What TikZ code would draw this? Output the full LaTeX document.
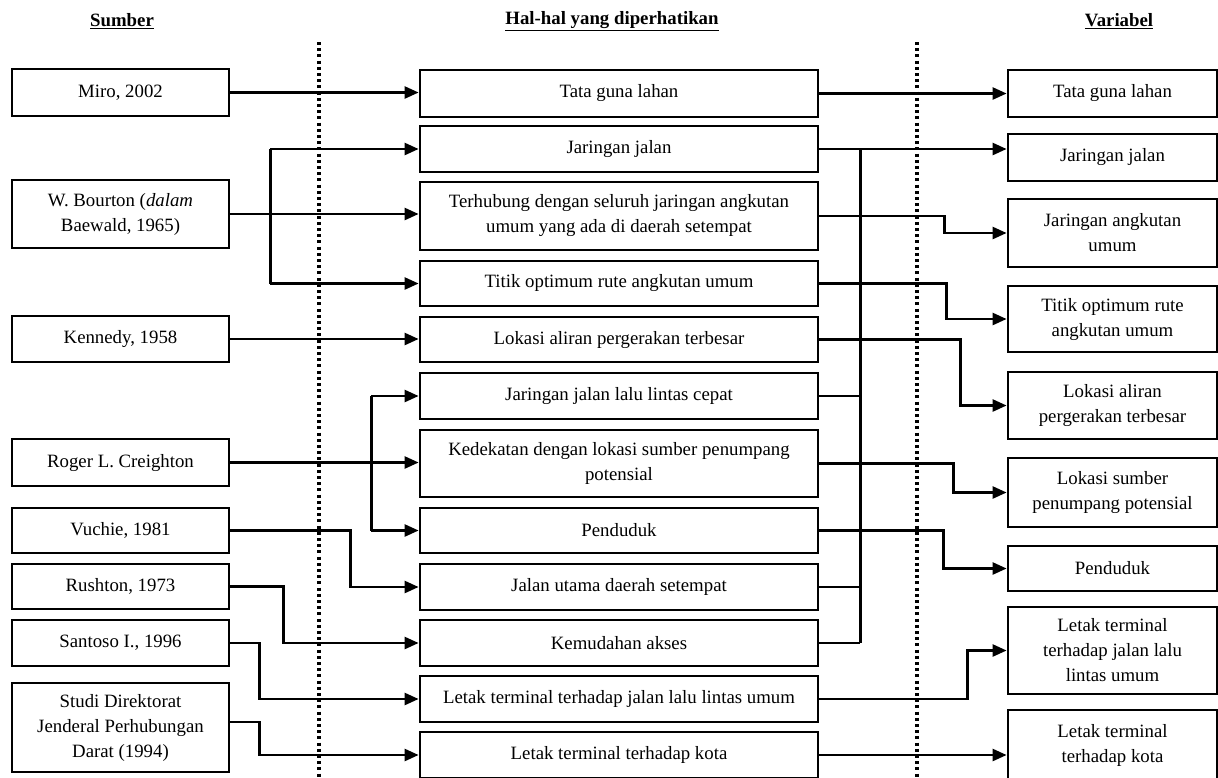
\documentclass[tikz,border=0pt]{standalone}
\usepackage{fontspec}
\setmainfont{Liberation Serif}
\usetikzlibrary{arrows.meta}
\begin{document}
\begin{tikzpicture}[x=1pt,y=-1pt,
  font=\fontsize{18.8}{25}\selectfont,
  box/.style={draw, line width=2.8pt, inner sep=0pt, align=center, anchor=center},
  lbox/.style={box, minimum width=217pt},
  mbox/.style={box, minimum width=398pt},
  rbox/.style={box, minimum width=209pt},
  conn/.style={line width=2.5pt},
  arr/.style={conn, -{Triangle[length=14pt,width=12pt]}},
  dotline/.style={line width=3.2pt, dash pattern=on 3pt off 3.2pt},
  hdr/.style={font=\fontsize{18.8}{25}\selectfont\bfseries, anchor=center}
]
\clip (0,0) rectangle (1218,777);
\fill[white] (0,0) rectangle (1218,777);

% headers
\node[hdr] (h1) at (122,21) {\underline{Sumber}};
\node[hdr] (h2) at (612,21) {\underline{Hal-hal yang diperhatikan}};
\node[hdr] (h3) at (1119,21) {\underline{Variabel}};

% dotted separators
\coordinate (d1t) at (319,42); \coordinate (d1b) at (319,780);
\coordinate (d2t) at (917,42); \coordinate (d2b) at (917,780);
\draw[dotline] (d1t) -- (d1b);
\draw[dotline] (d2t) -- (d2b);

% left column
\node[lbox, minimum height=47pt] (miro) at (120.5,92.5) {Miro, 2002};
\node[lbox, minimum height=68pt] (bourton) at (120.5,214) {W. Bourton (\textit{dalam}\\Baewald, 1965)};
\node[lbox, minimum height=46pt] (kennedy) at (120.5,339) {Kennedy, 1958};
\node[lbox, minimum height=47pt] (roger) at (120.5,462.5) {Roger L. Creighton};
\node[lbox, minimum height=45pt] (vuchie) at (120.5,530.5) {Vuchie, 1981};
\node[lbox, minimum height=45pt] (rushton) at (120.5,586.5) {Rushton, 1973};
\node[lbox, minimum height=46pt] (santoso) at (120.5,643) {Santoso I., 1996};
\node[lbox, minimum height=89pt] (studi) at (120.5,727.5) {Studi Direktorat\\Jenderal Perhubungan\\Darat (1994)};

% middle column
\node[mbox, minimum height=47pt] (m1) at (619,93.5) {Tata guna lahan};
\node[mbox, minimum height=46pt] (m2) at (619,149) {Jaringan jalan};
\node[mbox, minimum height=68pt] (m3) at (619,216) {Terhubung dengan seluruh jaringan angkutan\\umum yang ada di daerah setempat};
\node[mbox, minimum height=45pt] (m4) at (619,283.5) {Titik optimum rute angkutan umum};
\node[mbox, minimum height=45pt] (m5) at (619,339.5) {Lokasi aliran pergerakan terbesar};
\node[mbox, minimum height=46pt] (m6) at (619,396) {Jaringan jalan lalu lintas cepat};
\node[mbox, minimum height=67pt] (m7) at (619,463.5) {Kedekatan dengan lokasi sumber penumpang\\potensial};
\node[mbox, minimum height=45pt] (m8) at (619,530.5) {Penduduk};
\node[mbox, minimum height=46pt] (m9) at (619,587) {Jalan utama daerah setempat};
\node[mbox, minimum height=46pt] (m10) at (619,643) {Kemudahan akses};
\node[mbox, minimum height=46pt] (m11) at (619,699) {Letak terminal terhadap jalan lalu lintas umum};
\node[mbox, minimum height=46pt] (m12) at (619,755) {Letak terminal terhadap kota};

% right column
\node[rbox, minimum height=47pt] (r1) at (1112.5,93.5) {Tata guna lahan};
\node[rbox, minimum height=47pt] (r2) at (1112.5,157.5) {Jaringan jalan};
\node[rbox, minimum height=68pt] (r3) at (1112.5,233) {Jaringan angkutan\\umum};
\node[rbox, minimum height=66pt] (r4) at (1112.5,319) {Titik optimum rute\\angkutan umum};
\node[rbox, minimum height=67pt] (r5) at (1112.5,405.5) {Lokasi aliran\\pergerakan terbesar};
\node[rbox, minimum height=69pt] (r6) at (1112.5,492.5) {Lokasi sumber\\penumpang potensial};
\node[rbox, minimum height=45pt] (r7) at (1112.5,568.5) {Penduduk};
\node[rbox, minimum height=87pt] (r8) at (1112.5,650.5) {Letak terminal\\terhadap jalan lalu\\lintas umum};
\node[rbox, minimum height=70pt] (r9) at (1112.5,745) {Letak terminal\\terhadap kota};

% left connectors
\draw[arr] (miro.east) -- (miro.east -| m1.west);
\draw[arr] (bourton.east) -- (bourton.east -| m3.west);
\coordinate (bj) at ([xshift=40pt]bourton.east);
\draw[conn] (bj |- m2.west) -- (bj |- m4.west);
\draw[arr] (bj |- m2.west) -- (m2.west);
\draw[arr] (bj |- m4.west) -- (m4.west);
\draw[arr] (kennedy.east) -- (kennedy.east -| m5.west);
\draw[arr] (roger.east) -- (roger.east -| m7.west);
\coordinate (rj) at ([xshift=141pt]roger.east);
\draw[conn] (rj |- m6.west) -- (rj |- m8.west);
\draw[arr] (rj |- m6.west) -- (m6.west);
\draw[arr] (rj |- m8.west) -- (m8.west);
\draw[arr] (vuchie.east) -- ++(120,0) |- (m9.west);
\draw[arr] (rushton.east) -- ++(53,0) |- (m10.west);
\draw[arr] (santoso.east) -- ++(29,0) |- (m11.west);
\draw[arr] ([yshift=5.5pt]studi.east) -- ++(29,0) |- (m12.west);

% right connectors
\draw[arr] (m1.east) -- (m1.east -| r1.west);
\draw[arr] (m2.east) -- (m2.east -| r2.west);
\draw[arr] (m3.east) -- ++(125,0) |- (r3.west);
\draw[arr] (m4.east) -- ++(127,0) |- (r4.west);
\draw[arr] (m5.east) -- ++(141,0) |- (r5.west);
\draw[arr] (m7.east) -- ++(134,0) |- (r6.west);
\draw[arr] (m8.east) -- ++(124,0) |- (r7.west);
\draw[arr] (m11.east) -- ++(148,0) |- (r8.west);
\draw[arr] (m12.east) -- (m12.east -| r9.west);
\coordinate (bus) at ([xshift=41pt]m2.east);
\draw[conn] (bus) -- (bus |- m10.east);
\draw[conn] (m6.east) -- (m6.east -| bus);
\draw[conn] (m9.east) -- (m9.east -| bus);
\draw[conn] (m10.east) -- (m10.east -| bus);
\end{tikzpicture}
\end{document}
